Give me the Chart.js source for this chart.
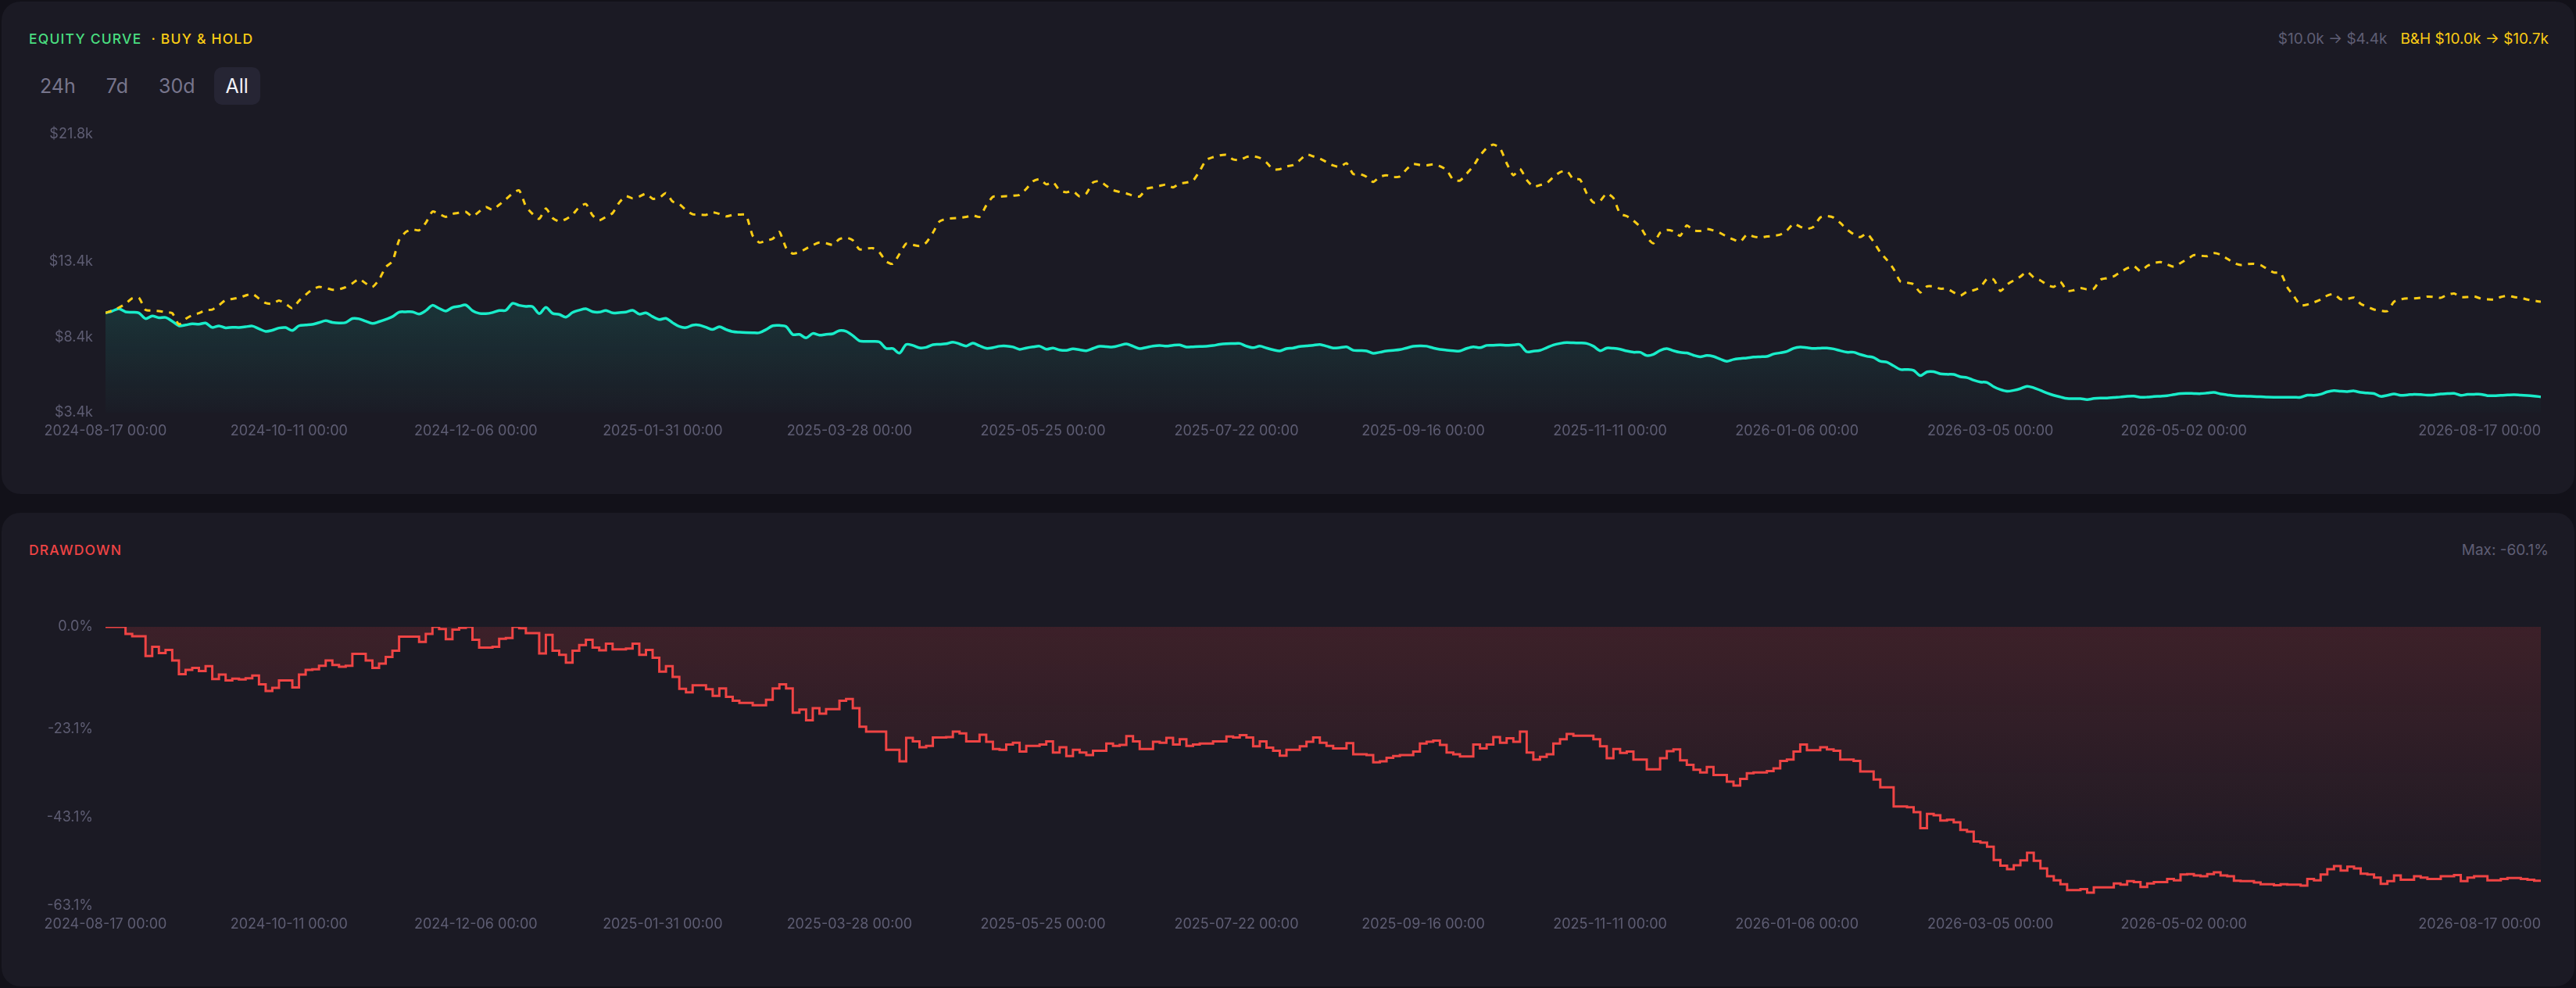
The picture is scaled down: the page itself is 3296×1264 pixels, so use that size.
<!DOCTYPE html>
<html>
<head>
<meta charset="utf-8">
<script src="https://cdn.jsdelivr.net/npm/chart.js@4.4.1/dist/chart.umd.min.js"></script>
<style>
  html, body { margin:0; padding:0; width:3296px; height:1264px; overflow:hidden; background:#121119; font-family: Inter, "Noto Sans", sans-serif; }
  .card { position:absolute; left:2px; width:3292px; background:#1b1a24; border-radius:24px; }
  #card1 { top:2px; height:630px; }
  #card2 { top:656px; height:606px; }
  .title { position:absolute; left:35px; top:35px; font-size:17.5px; line-height:26px; letter-spacing:1.2px; font-weight:500; white-space:nowrap; }
  .stats { position:absolute; right:33px; top:35px; font-size:19px; line-height:26px; white-space:nowrap; }
  .btns { position:absolute; left:34px; top:84px; display:flex; gap:9px; }
  .btn { height:48px; line-height:48px; padding:0 15px; border-radius:10px; font-size:25px; color:#77758c; }
  .btn.active { background:#262534; color:#f2f2f7; }
  .chartbox { position:absolute; left:0; width:3296px; }
  #box1 { top:140px; height:428px; }
  #box2 { top:770px; height:429px; }
</style>
</head>
<body>
<div class="card" id="card1">
  <div class="title"><span style="color:#4ade80">EQUITY CURVE</span><span style="color:#facc15;margin-left:12px">· BUY &amp; HOLD</span></div>
  <div class="stats"><span style="color:#5f5e74">$10.0k → $4.4k</span><span style="color:#facc15;margin-left:17px">B&amp;H $10.0k → $10.7k</span></div>
  <div class="btns"><div class="btn">24h</div><div class="btn">7d</div><div class="btn">30d</div><div class="btn active">All</div></div>
</div>
<div class="card" id="card2">
  <div class="title" style="color:#ef4444">DRAWDOWN</div>
  <div class="stats" style="color:#5f5e74" id="maxdd">Max: -60.1%</div>
</div>
<div class="chartbox" id="box1"><canvas id="eq"></canvas></div>
<div class="chartbox" id="box2"><canvas id="dd"></canvas></div>
<script>
// ---- data ----
const startDate = '2024-08-17';
const stepDays = 2; // one point every 2 days, 2024-08-17 .. 2026-08-17

const tickLabels = ['2024-08-17 00:00','2024-10-11 00:00','2024-12-06 00:00','2025-01-31 00:00','2025-03-28 00:00','2025-05-25 00:00','2025-07-22 00:00','2025-09-16 00:00','2025-11-11 00:00','2026-01-06 00:00','2026-03-05 00:00','2026-05-02 00:00','2026-08-17 00:00'];

const equityTicks = [3.4, 8.4, 13.4, 21.8];      // $k
const drawdownTicks = [-63.1, -43.1, -23.1, 0];   // %

// strategy equity, $k
const equity = [
10.00,10.12,10.27,10.07,10.04,10.00,9.62,9.80,9.68,9.70,
9.45,9.15,9.20,9.28,9.25,9.33,9.04,9.14,9.01,9.05,
9.04,9.08,9.13,8.95,8.78,8.85,9.00,9.03,8.84,9.15,
9.20,9.24,9.36,9.48,9.37,9.33,9.36,9.63,9.61,9.45,
9.30,9.42,9.57,9.75,10.05,10.07,10.07,9.93,10.15,10.50,
10.30,10.12,10.36,10.44,10.52,10.15,9.97,9.95,10.02,10.16,
10.17,10.63,10.50,10.43,10.42,9.95,10.36,9.97,9.90,9.72,
10.03,10.18,10.27,10.08,10.05,10.16,10.00,10.02,10.05,10.17,
9.92,10.00,9.75,9.56,9.64,9.35,9.10,9.03,9.19,9.19,
9.05,8.90,9.08,8.90,8.76,8.72,8.70,8.69,8.69,8.90,
9.15,9.17,9.10,8.57,8.58,8.35,8.64,8.53,8.58,8.62,
8.83,8.78,8.50,8.15,8.12,8.12,8.08,7.65,7.64,7.34,
7.91,7.85,7.69,7.72,7.90,7.92,7.96,8.07,7.95,7.81,
8.00,7.82,7.66,7.70,7.80,7.81,7.75,7.59,7.68,7.75,
7.80,7.60,7.68,7.55,7.52,7.63,7.56,7.50,7.65,7.79,
7.77,7.75,7.85,7.95,7.80,7.64,7.72,7.81,7.85,7.80,
7.86,7.88,7.74,7.76,7.78,7.79,7.84,7.92,7.96,7.97,
7.98,7.80,7.70,7.80,7.68,7.56,7.48,7.64,7.68,7.78,
7.82,7.86,7.91,7.80,7.68,7.70,7.75,7.53,7.51,7.48,
7.33,7.40,7.48,7.52,7.57,7.68,7.79,7.82,7.80,7.68,
7.59,7.54,7.50,7.48,7.65,7.76,7.70,7.85,7.86,7.88,
7.86,7.88,7.90,7.43,7.47,7.52,7.70,7.88,7.98,8.04,
8.02,8.01,7.98,7.80,7.50,7.68,7.66,7.60,7.48,7.40,
7.40,7.18,7.26,7.52,7.64,7.50,7.39,7.35,7.20,7.10,
7.18,7.12,6.95,6.80,6.92,6.98,7.02,7.08,7.10,7.12,
7.28,7.36,7.45,7.66,7.74,7.70,7.65,7.67,7.68,7.62,
7.50,7.40,7.40,7.25,7.13,7.05,6.80,6.74,6.50,6.26,
6.26,6.20,5.85,6.10,6.11,5.97,5.94,5.93,5.78,5.72,
5.55,5.43,5.40,5.12,4.93,4.82,4.88,4.99,5.15,5.05,
4.88,4.70,4.55,4.44,4.34,4.33,4.33,4.27,4.34,4.37,
4.37,4.41,4.44,4.49,4.50,4.42,4.43,4.47,4.49,4.52,
4.60,4.67,4.68,4.67,4.66,4.70,4.74,4.64,4.58,4.52,
4.50,4.49,4.47,4.46,4.43,4.42,4.42,4.42,4.42,4.42,
4.56,4.55,4.62,4.78,4.86,4.82,4.80,4.84,4.74,4.70,
4.67,4.48,4.55,4.64,4.55,4.58,4.62,4.60,4.56,4.58,
4.64,4.66,4.68,4.55,4.61,4.62,4.62,4.53,4.52,4.55,
4.57,4.59,4.56,4.54,4.50,4.45
];

// buy & hold, $k
const buyHold = [
10.00,10.15,10.35,10.60,10.96,11.00,10.20,10.15,10.12,10.05,
9.98,9.24,9.60,9.85,9.98,10.18,10.22,10.50,10.85,10.92,
11.00,11.15,11.27,10.95,10.65,10.60,10.82,10.60,10.31,10.80,
11.20,11.55,11.72,11.65,11.53,11.56,11.70,11.95,12.25,11.95,
11.71,12.20,13.03,13.40,14.80,15.35,15.52,15.46,15.95,16.70,
16.55,16.35,16.54,16.62,16.68,16.38,16.70,17.00,16.82,17.15,
17.50,17.90,18.10,17.05,16.55,16.22,16.90,16.28,16.05,16.20,
16.50,17.00,17.20,16.45,16.13,16.35,16.60,17.30,17.72,17.58,
17.70,17.88,17.55,17.60,17.92,17.36,17.20,16.80,16.52,16.50,
16.48,16.65,16.55,16.38,16.48,16.50,16.47,15.10,14.65,14.78,
14.90,15.35,14.30,13.92,14.02,14.25,14.48,14.65,14.60,14.50,
14.88,14.98,14.80,14.20,14.25,14.28,14.00,13.40,13.25,13.90,
14.58,14.50,14.42,14.65,15.30,16.05,16.22,16.26,16.29,16.35,
16.45,16.35,17.10,17.68,17.68,17.72,17.75,17.80,18.20,18.70,
18.85,18.50,18.65,18.10,17.98,18.05,17.70,17.90,18.62,18.72,
18.40,18.12,18.00,17.90,17.75,17.70,18.20,18.30,18.40,18.49,
18.30,18.55,18.62,18.75,19.40,20.12,20.30,20.42,20.45,20.15,
20.10,20.31,20.36,20.25,19.95,19.50,19.50,19.68,19.78,20.10,
20.48,20.35,20.20,19.98,19.75,19.65,19.90,19.18,19.18,19.00,
18.66,19.00,19.10,18.98,19.02,19.50,19.85,19.78,19.76,19.82,
19.70,19.45,18.80,18.75,19.20,19.70,20.40,20.90,21.13,20.90,
19.90,19.10,19.52,18.80,18.35,18.45,18.58,18.98,19.30,19.40,
18.84,18.82,17.90,17.30,17.40,17.90,17.60,16.56,16.40,16.10,
15.70,15.00,14.60,15.30,15.48,15.40,15.10,15.78,15.45,15.42,
15.55,15.45,15.28,15.05,14.85,14.70,15.18,15.05,14.98,15.05,
15.10,15.18,15.45,15.90,15.70,15.55,15.70,16.31,16.40,16.30,
15.95,15.52,15.20,15.01,15.25,14.70,14.00,13.50,12.90,12.08,
12.00,11.90,11.35,11.75,11.75,11.60,11.60,11.35,11.14,11.40,
11.50,11.70,12.25,12.20,11.45,11.88,12.15,12.40,12.72,12.34,
12.15,11.85,11.72,12.05,11.45,11.50,11.65,11.55,11.60,12.20,
12.30,12.42,12.70,12.95,13.10,12.76,13.10,13.30,13.36,13.20,
13.05,13.30,13.55,13.82,13.78,13.75,13.95,13.85,13.58,13.30,
13.17,13.23,13.25,13.16,12.90,12.67,12.64,11.70,11.10,10.50,
10.55,10.70,10.88,11.15,11.25,10.90,10.92,11.01,10.60,10.40,
10.22,10.15,10.12,10.74,10.90,10.96,10.96,11.00,11.08,11.05,
11.00,11.20,11.28,11.05,11.05,11.09,10.95,10.90,10.88,11.05,
11.14,11.05,11.00,10.88,10.80,10.74
];

// drawdown, %
const drawdown = [
0,0,0,-1.6,-2.1,-2.1,-6.6,-4.5,-5.9,-5.2,
-7.6,-10.7,-9.7,-9.3,-10.0,-8.9,-11.8,-10.8,-12.1,-11.7,
-11.9,-11.6,-11.0,-13.0,-14.5,-13.8,-12.1,-12.1,-13.7,-10.8,
-9.7,-9.6,-8.8,-7.6,-8.6,-9.0,-8.8,-6.1,-6.1,-7.6,
-9.3,-8.3,-6.8,-5.4,-2.2,-2.2,-2.2,-3.4,-1.6,0,
-0.5,-2.8,-0.6,-0.2,0,-2.9,-4.7,-4.7,-4.5,-2.7,
-2.5,0,-0.3,-1.4,-1.4,-6.0,-1.8,-5.4,-6.3,-8.1,
-5.4,-4.1,-2.9,-4.7,-5.3,-3.8,-5.1,-5.1,-4.9,-3.8,
-6.3,-5.2,-7.0,-10.1,-8.9,-11.3,-14.0,-14.8,-13.2,-13.2,
-14.1,-15.6,-13.9,-15.8,-16.7,-17.2,-17.2,-17.7,-17.7,-16.5,
-13.9,-13.0,-13.9,-19.4,-18.7,-21.1,-18.4,-19.6,-18.6,-18.6,
-16.7,-16.3,-18.4,-22.6,-23.7,-23.7,-23.7,-27.8,-27.8,-30.4,
-25.1,-25.9,-27.2,-26.9,-25.0,-25.0,-24.9,-23.7,-24.1,-25.9,
-25.9,-24.4,-26.0,-27.6,-27.8,-26.6,-26.2,-28.2,-26.9,-26.9,
-26.6,-25.9,-28.4,-27.2,-29.2,-27.8,-28.4,-29.0,-28.0,-28.0,
-26.4,-26.9,-26.7,-24.7,-25.9,-27.6,-27.6,-26.0,-26.2,-25.1,
-26.6,-25.4,-26.9,-26.6,-26.4,-26.4,-25.9,-25.9,-24.8,-25.0,
-24.5,-25.0,-27.0,-25.9,-27.3,-28.0,-29.1,-27.8,-27.8,-27.0,
-26.0,-25.0,-26.2,-26.9,-27.5,-27.5,-26.3,-28.8,-28.8,-29.0,
-30.6,-30.4,-29.6,-29.2,-29.0,-29.0,-28.2,-26.4,-26.0,-25.7,
-26.7,-28.4,-28.8,-29.3,-29.3,-26.6,-27.5,-26.6,-24.9,-26.2,
-25.2,-26.0,-23.7,-28.4,-30.0,-29.4,-28.8,-26.4,-25.4,-24.2,
-24.6,-24.6,-24.6,-25.4,-27.0,-29.7,-27.6,-28.5,-28.2,-30.0,
-30.0,-32.2,-32.2,-29.7,-28.1,-27.7,-30.2,-31.2,-32.3,-32.9,
-31.7,-33.5,-33.5,-35.0,-35.9,-34.4,-33.1,-32.9,-32.9,-32.6,
-32.0,-30.3,-30.0,-28.2,-26.6,-27.9,-27.9,-27.2,-27.7,-28.0,
-30.0,-30.0,-30.3,-32.7,-32.7,-34.5,-36.3,-36.3,-40.6,-40.6,
-40.8,-41.9,-45.5,-42.3,-42.6,-43.8,-43.6,-44.2,-45.9,-46.3,
-48.5,-48.8,-49.7,-52.7,-54.0,-54.8,-53.9,-52.8,-51.1,-52.9,
-54.6,-56.4,-57.3,-58.2,-59.5,-59.5,-59.3,-60.1,-58.9,-58.9,
-58.9,-58.0,-58.3,-57.5,-57.7,-58.8,-58.0,-57.7,-57.7,-57.0,
-57.3,-56.0,-55.9,-56.2,-56.4,-55.9,-55.5,-56.2,-56.4,-57.4,
-57.5,-57.5,-57.8,-58.2,-58.2,-58.4,-58.2,-58.3,-58.3,-58.5,
-57.0,-57.3,-56.0,-54.8,-54.1,-55.1,-54.2,-54.6,-55.8,-56.0,
-56.7,-58.1,-57.5,-56.2,-57.2,-57.2,-56.4,-56.7,-57.0,-57.0,
-56.4,-56.4,-56.1,-57.5,-56.7,-56.4,-56.4,-57.3,-57.3,-57.0,
-56.8,-56.8,-57.0,-57.2,-57.4,-57.4
];

// ---- helpers ----
const DAY = 86400000;
const t0 = Date.parse(startDate + 'T00:00:00Z');
const dayOf = s => (Date.parse(s.slice(0,10) + 'T00:00:00Z') - t0) / DAY;
const tickDays = tickLabels.map(dayOf);
const lastDay = tickDays[tickDays.length - 1];
const toPoints = arr => arr.map((v, i) => ({ x: i * stepDays, y: v }));

document.getElementById('maxdd').textContent = 'Max: ' + Math.min(...drawdown).toFixed(1) + '%';

const TICK_COLOR = '#5e5d73';
const TICK_FONT = { family: 'Inter', size: 18 };

function xAxis() {
  return {
    type: 'linear', min: 0, max: lastDay,
    grid: { display: false, drawTicks: false }, border: { display: false },
    afterBuildTicks: s => { s.ticks = [{ value: tickDays[0] }].concat(tickDays.map(v => ({ value: v }))); },
    afterFit: s => { s.height = 40; },
    ticks: {
      autoSkip: false, maxRotation: 0, minRotation: 0, align: 'inner', padding: 13,
      color: TICK_COLOR, font: TICK_FONT,
      callback: (v, i) => i === 0 ? '' : tickLabels[i - 1]
    }
  };
}
function yAxis(ticks, fmt) {
  return {
    min: ticks[0], max: ticks[ticks.length - 1],
    grid: { display: false, drawTicks: false }, border: { display: false },
    afterBuildTicks: s => { s.ticks = ticks.map(v => ({ value: v })); },
    afterFit: s => { s.width = 135; },
    ticks: { padding: 16, color: TICK_COLOR, font: TICK_FONT, callback: fmt }
  };
}
function vGradient(stops) {
  return ctx => {
    const { chart } = ctx; const ca = chart.chartArea;
    if (!ca) return 'transparent';
    const g = chart.ctx.createLinearGradient(0, ca.top, 0, ca.bottom);
    stops.forEach(([o, c]) => g.addColorStop(o, c));
    return g;
  };
}

const common = {
  responsive: true, maintainAspectRatio: false, animation: false,
  layout: { padding: { top: 32, right: 45, left: 0, bottom: 0 } },
  plugins: { legend: { display: false }, tooltip: { enabled: false } },
  elements: { point: { radius: 0, hoverRadius: 0 } }
};

new Chart(document.getElementById('eq'), {
  type: 'line',
  data: {
    datasets: [
      { label: 'Buy & Hold', data: toPoints(buyHold), borderColor: '#facc15', borderWidth: 3, borderDash: [8, 8], tension: 0.2, fill: false },
      { label: 'Equity', data: toPoints(equity), borderColor: '#19ecc9', borderWidth: 3.5, tension: 0.3, fill: 'start',
        backgroundColor: vGradient([[0, 'rgba(25,236,201,0.30)'], [1, 'rgba(25,236,201,0.01)']]) }
    ]
  },
  options: Object.assign({}, common, {
    scales: { x: xAxis(), y: yAxis(equityTicks, v => '$' + v.toFixed(1) + 'k') }
  })
});

new Chart(document.getElementById('dd'), {
  type: 'line',
  data: {
    datasets: [
      { label: 'Drawdown', data: toPoints(drawdown), borderColor: '#ef4444', borderWidth: 3, stepped: true, fill: 'origin',
        backgroundColor: vGradient([[0, 'rgba(239,68,68,0.16)'], [1, 'rgba(239,68,68,0.0)']]) }
    ]
  },
  options: Object.assign({}, common, {
    scales: { x: xAxis(), y: yAxis(drawdownTicks, v => v.toFixed(1) + '%') }
  })
});
</script>
</body>
</html>
